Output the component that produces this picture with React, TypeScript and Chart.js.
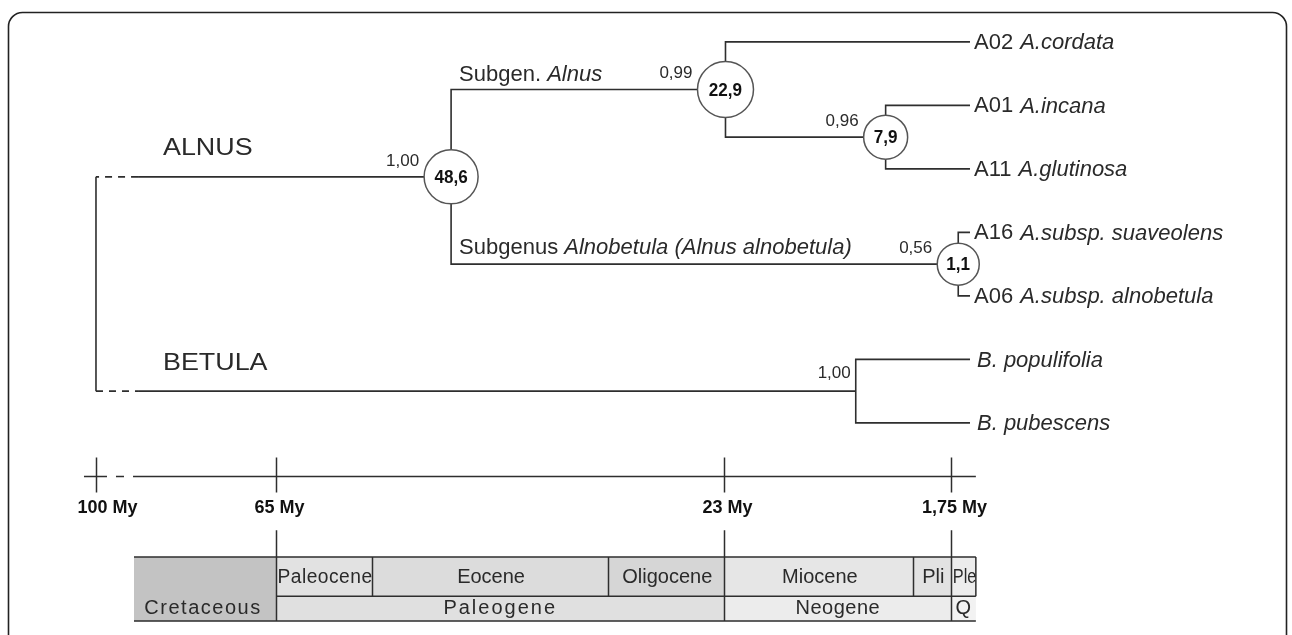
import React, { useEffect, useRef } from "react";
import { Chart, registerables } from "chart.js";

Chart.register(...registerables);

// ---------------- data ----------------
// Leaves, top to bottom (tips are at the present, 0 My)
const leafCodes = ["A02", "A01", "A11", "A16", "A06", "", ""];
const leafSpecies = [
  "A.cordata",
  "A.incana",
  "A.glutinosa",
  "A.subsp. suaveolens",
  "A.subsp. alnobetula",
  "B. populifolia",
  "B. pubescens",
];
const leafAges = [0, 0, 0, 0, 0, 0, 0];

// Internal nodes (ages in My)
const nodeKeys = ["alnus", "subAlnus", "incGlut", "alnobetula", "betula", "root"];
const nodeAges = [48.6, 22.9, 7.9, 1.1, 10.7, 100];
const nodeAgeLabels = ["48,6", "22,9", "7,9", "1,1", "", ""];
const nodePosteriors = ["1,00", "0,99", "0,96", "0,56", "1,00", ""];
const nodeChildren = [
  ["subAlnus", "alnobetula"],
  ["L0", "incGlut"],
  ["L1", "L2"],
  ["L3", "L4"],
  ["L5", "L6"],
  ["alnus", "betula"],
];

// Clade labels
const cladeLabels = ["ALNUS", "BETULA"];
const cladeNodes = ["alnus", "betula"];

// Time axis
const axisTickAges = [100, 65, 23, 1.75];
const axisTickLabels = ["100 My", "65 My", "23 My", "1,75 My"];

// Geological time scale
const epochNames = ["Paleocene", "Eocene", "Oligocene", "Miocene", "Pli", "Ple"];
const epochStart = [65, 56, 33.9, 23, 5.3, 1.75];
const epochEnd = [56, 33.9, 23, 5.3, 1.75, -0.55];
const periodNames = ["Paleogene", "Neogene", "Q"];
const periodStart = [65, 23, 1.75];
const periodEnd = [23, 1.75, -0.55];
const olderPeriod = "Cretaceous";

// ---------------- layout / style ----------------
const X_MIN = -30.16;
const X_MAX = 90.85;
const Y_MIN = -0.66;
const Y_MAX = 9.34;
const BREAK_AGE = 81.86; // broken axis: 100 My is drawn here
const DASH_END_AGE = 77.92;
const TABLE_START_AGE = 78.3;
const AXIS_SOLID_START = 78.39;
const AXIS_END_AGE = -0.55;
const AXIS_ROW = 6.84;
const TICK_LABEL_ROW = 7.34;
const LINK_TOP_ROW = 7.69;
const TABLE_TOP_ROW = 8.113;
const TABLE_MID_ROW = 8.728;
const TABLE_BOTTOM_ROW = 9.121;

const NODE_RADII = [27, 28, 22, 21];
const FONT = '"Liberation Sans", Arial, sans-serif';
const INK = "#2a2a2a";
const LINE = "#2e2e2e";

const epochFill = ["#e2e2e2", "#dcdcdc", "#d6d6d6", "#e6e6e6", "#e2e2e2", "#ececec"];
const periodFill = ["#e0e0e0", "#ececec", "#f2f2f2"];
const olderFill = "#c3c3c3";

const displayAge = (a: number) => (a > 70 ? BREAK_AGE : a);

function txt(
  ctx: CanvasRenderingContext2D,
  s: string,
  x: number,
  y: number,
  font: string,
  align: "left" | "center" | "right" = "left",
  sx = 1,
  color = INK,
  spacing = 0,
  maxW = 0
) {
  ctx.save();
  ctx.font = font;
  (ctx as any).letterSpacing = spacing + "px";
  ctx.fillStyle = color;
  ctx.textBaseline = "middle";
  ctx.textAlign = "left";
  const raw = ctx.measureText(s).width;
  let k = sx;
  if (maxW > 0 && raw * k > maxW) k = maxW / raw;
  const w = raw * k;
  const dx = align === "left" ? 0 : align === "center" ? -w / 2 : -w;
  ctx.translate(x + dx, y);
  ctx.scale(k, 1);
  ctx.fillText(s, 0, 0);
  ctx.restore();
  return w;
}

export default function App() {
  const ref = useRef<HTMLCanvasElement>(null);

  useEffect(() => {
    const canvas = ref.current!;
    const pos: Record<string, { x: number; y: number }> = {};
    leafSpecies.forEach((_, i) => (pos["L" + i] = { x: leafAges[i], y: i }));
    const place = (k: string): { x: number; y: number } => {
      if (pos[k]) return pos[k];
      const i = nodeKeys.indexOf(k);
      const ch = nodeChildren[i].map(place);
      const p = { x: displayAge(nodeAges[i]), y: (ch[0].y + ch[ch.length - 1].y) / 2 };
      pos[k] = p;
      return p;
    };
    place("root");

    const branchSets: any[] = [];
    nodeKeys.forEach((k, i) => {
      const p = pos[k];
      const [c1, c2] = nodeChildren[i].map((c) => pos[c]);
      if (k === "root") {
        branchSets.push({
          data: [
            c1,
            { x: DASH_END_AGE, y: c1.y },
            { x: p.x, y: c1.y },
            { x: p.x, y: c2.y },
            { x: DASH_END_AGE, y: c2.y },
            c2,
          ],
          segment: {
            borderDash: (c: any) =>
              c.p0DataIndex === 1 || c.p0DataIndex === 3 ? [7, 6] : undefined,
          },
        });
      } else {
        branchSets.push({
          data: [c1, { x: p.x, y: c1.y }, { x: p.x, y: c2.y }, c2],
        });
      }
    });

    const circled = nodeKeys.filter((_, i) => nodeAgeLabels[i] !== "");
    const circleData = circled.map((k) => pos[k]);

    const decor = {
      id: "phyloDecor",
      beforeDatasetsDraw(chart: any) {
        const ctx: CanvasRenderingContext2D = chart.ctx;
        const xs = chart.scales.x;
        const ys = chart.scales.y;
        const X = (a: number) => xs.getPixelForValue(a);
        const Y = (r: number) => ys.getPixelForValue(r);
        ctx.save();
        // frame
        ctx.strokeStyle = "#222";
        ctx.lineWidth = 1.6;
        ctx.beginPath();
        (ctx as any).roundRect(8.5, 12.5, 1278, 700, 14);
        ctx.stroke();

        // time axis
        const ay = Math.round(Y(AXIS_ROW)) + 0.5;
        const rx = X(BREAK_AGE);
        ctx.strokeStyle = LINE;
        ctx.lineWidth = 1.5;
        ctx.beginPath();
        ctx.moveTo(rx - 12, ay);
        ctx.lineTo(rx + 11, ay);
        ctx.moveTo(rx + 20, ay);
        ctx.lineTo(rx + 28, ay);
        ctx.moveTo(X(AXIS_SOLID_START), ay);
        ctx.lineTo(X(AXIS_END_AGE), ay);
        ctx.stroke();
        axisTickAges.forEach((a, i) => {
          const tx = Math.round(X(displayAge(a))) + 0.5;
          ctx.beginPath();
          ctx.moveTo(tx, ay - 19);
          ctx.lineTo(tx, ay + 16);
          ctx.stroke();
          const lx = a > 70 ? tx + 11 : tx + 3;
          txt(ctx, axisTickLabels[i], lx, Y(TICK_LABEL_ROW), `bold 18px ${FONT}`, "center", 1.0, "#111");
        });

        // geological table
        const t0 = Y(TABLE_TOP_ROW);
        const t1 = Y(TABLE_MID_ROW);
        const t2 = Y(TABLE_BOTTOM_ROW);
        const left = X(TABLE_START_AGE);
        const right = X(AXIS_END_AGE);
        ctx.fillStyle = olderFill;
        ctx.fillRect(left, t0, X(65) - left, t2 - t0);
        epochNames.forEach((n, i) => {
          const a = X(epochStart[i]);
          const b = X(epochEnd[i]);
          ctx.fillStyle = epochFill[i];
          ctx.fillRect(a, t0, b - a, t1 - t0);
        });
        periodNames.forEach((n, i) => {
          const a = X(periodStart[i]);
          const b = X(periodEnd[i]);
          ctx.fillStyle = periodFill[i];
          ctx.fillRect(a, t1, b - a, t2 - t1);
        });
        ctx.strokeStyle = LINE;
        ctx.lineWidth = 1.5;
        ctx.beginPath();
        ctx.moveTo(left, t0);
        ctx.lineTo(right, t0);
        ctx.moveTo(X(65), t1);
        ctx.lineTo(right, t1);
        ctx.moveTo(left, t2);
        ctx.lineTo(right, t2);
        ctx.moveTo(right, t0);
        ctx.lineTo(right, t1);
        epochStart.forEach((a) => {
          const x = Math.round(X(a)) + 0.5;
          ctx.moveTo(x, t0);
          ctx.lineTo(x, t1);
        });
        periodStart.forEach((a) => {
          const x = Math.round(X(a)) + 0.5;
          ctx.moveTo(x, Y(LINK_TOP_ROW));
          ctx.lineTo(x, t2);
        });
        ctx.stroke();
        const tf = `20px ${FONT}`;
        epochNames.forEach((n, i) => {
          const a = X(epochStart[i]);
          const b = X(epochEnd[i]);
          txt(ctx, n, (a + b) / 2 + 1, (t0 + t1) / 2 + 1, tf, "center", 1.0, INK, i === 0 ? 0.5 : 0, b - a - 1);
        });
        periodNames.forEach((n, i) => {
          const a = X(periodStart[i]);
          const b = X(periodEnd[i]);
          txt(ctx, n, (a + b) / 2, (t1 + t2) / 2, tf, "center", 1.0, INK, i === 0 ? 2 : 0.5, b - a - 1);
        });
        txt(ctx, olderPeriod, (left + X(65)) / 2 - 2, (t1 + t2) / 2, tf, "center", 1.0, INK, 1.5);
        ctx.restore();
      },
      afterDatasetsDraw(chart: any) {
        const ctx: CanvasRenderingContext2D = chart.ctx;
        const xs = chart.scales.x;
        const ys = chart.scales.y;
        const X = (a: number) => xs.getPixelForValue(a);
        const Y = (r: number) => ys.getPixelForValue(r);
        const reg = `22px ${FONT}`;
        const ital = `italic 22px ${FONT}`;

        // node ages inside circles and posterior probabilities
        nodeKeys.forEach((k, i) => {
          const p = pos[k];
          const px = X(p.x);
          const py = Y(p.y);
          if (nodeAgeLabels[i]) {
            txt(ctx, nodeAgeLabels[i], px, py + 1, `bold 18px ${FONT}`, "center", 0.95, "#111");
          }
          if (nodePosteriors[i]) {
            const ci = circled.indexOf(k);
            const r = ci >= 0 ? NODE_RADII[ci] : 0;
            const dy = ci >= 0 ? -16 : -18;
            txt(ctx, nodePosteriors[i], px - r - 5, py + dy, `17px ${FONT}`, "right", 1.0);
          }
        });

        // clade labels
        cladeLabels.forEach((s, i) => {
          const p = pos[cladeNodes[i]];
          txt(ctx, s, X(BREAK_AGE) + 67, Y(p.y) - 28, `24px ${FONT}`, "left", 1.12);
        });

        // subgenus labels
        const an = pos["alnus"];
        const sa = pos["subAlnus"];
        const ab = pos["alnobetula"];
        const sx0 = X(an.x) + 8;
        const ya = Y(sa.y) - 15;
        const w = txt(ctx, "Subgen. ", sx0, ya, reg, "left");
        txt(ctx, "Alnus", sx0 + w, ya, ital, "left");
        let x = sx0;
        const yb = Y(ab.y) - 16;
        x += txt(ctx, "Subgenus ", x, yb, reg, "left");
        x += txt(ctx, "Alnobetula", x, yb, ital, "left");
        x += txt(ctx, " (Alnus alnobetula)", x, yb, ital, "left");

        // leaf labels
        leafSpecies.forEach((s, i) => {
          const p = pos["L" + i];
          let lx = X(p.x) + 4;
          const ly = Y(p.y) + 1;
          if (leafCodes[i]) {
            lx += txt(ctx, leafCodes[i], lx, ly, reg, "left") + 7;
          } else {
            lx += 3;
          }
          txt(ctx, s, lx, ly, ital, "left");
        });
      },
    };

    const chart = new Chart(canvas, {
      type: "scatter",
      data: {
        datasets: [
          {
            data: circleData,
            pointRadius: NODE_RADII,
            pointHoverRadius: NODE_RADII,
            backgroundColor: "#ffffff",
            borderColor: "#555555",
            borderWidth: 1.5,
            showLine: false,
            order: 0,
          } as any,
          ...branchSets.map((b) => ({
            ...b,
            showLine: true,
            pointRadius: 0,
            borderColor: LINE,
            borderWidth: 1.6,
            fill: false,
            order: 1,
          })),
        ],
      },
      options: {
        animation: false,
        responsive: false,
        events: [],
        layout: { padding: 0, autoPadding: false },
        plugins: { legend: { display: false }, tooltip: { enabled: false } },
        scales: {
          x: { type: "linear", min: X_MIN, max: X_MAX, reverse: true, display: false },
          y: { type: "linear", min: Y_MIN, max: Y_MAX, reverse: true, display: false },
        },
      } as any,
      plugins: [decor as any],
    });
    return () => chart.destroy();
  }, []);

  return (
    <div
      style={{
        position: "fixed",
        left: 0,
        top: 0,
        width: 1292,
        height: 635,
        overflow: "hidden",
        background: "#fff",
      }}
    >
      <canvas ref={ref} width={1292} height={635} style={{ display: "block", width: 1292, height: 635 }} />
    </div>
  );
}
